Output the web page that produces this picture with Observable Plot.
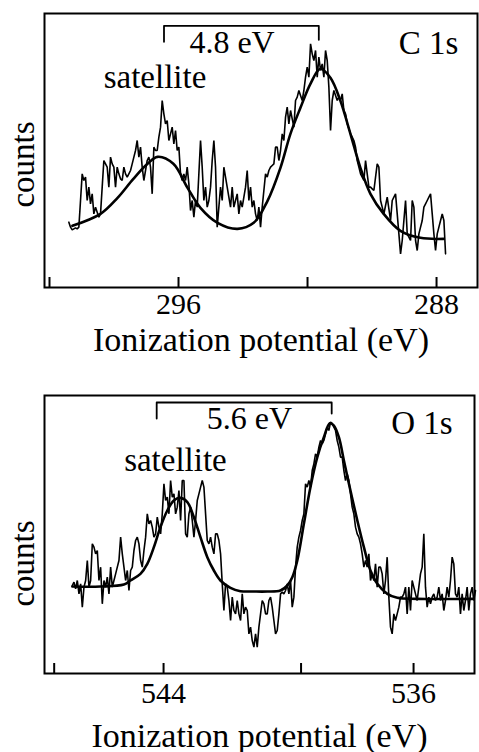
<!DOCTYPE html>
<html>
<head>
<meta charset="utf-8">
<script src="https://cdn.jsdelivr.net/npm/d3@7"></script>
<script src="https://cdn.jsdelivr.net/npm/@observablehq/plot@0.6"></script>
<style>
  html, body { margin: 0; padding: 0; background: #fff; }
  #chart svg { display: block; }
</style>
</head>
<body>
<div id="chart"></div>
<script>
// ---------- C 1s photoelectron spectrum ----------
// raw counts per channel (arbitrary units), channels run from c1sStart downward by c1sStep eV
const c1sStart = 299.40;
const c1sStep = 0.05168;
const c1sCounts = [
  196,181,173,176,179,176,181,261,341,321,
  331,261,301,251,281,221,241,226,211,221,
  301,381,371,361,301,391,371,361,301,361,
  341,326,321,361,341,331,341,351,371,391,
  411,441,391,421,361,321,351,381,391,361,
  281,421,411,411,451,481,561,521,491,501,
  441,461,481,431,471,411,421,341,321,341,
  321,361,311,231,261,211,261,241,341,441,
  361,261,301,241,261,301,381,441,361,181,
  241,301,261,361,331,301,271,241,301,241,
  261,281,221,261,241,271,301,351,261,301,
  241,261,221,201,241,181,241,291,341,331,
  351,361,366,371,421,421,381,411,461,441,
  511,541,491,531,506,481,561,571,591,576,
  561,591,631,661,631,731,701,681,711,631,
  691,651,671,631,711,681,601,471,561,591,
  576,561,571,561,581,531,521,491,476,461,
  451,441,421,381,361,341,331,321,381,341,
  301,301,296,291,331,371,361,261,241,221,
  246,271,236,201,261,271,281,221,161,101,
  141,201,261,161,151,141,261,241,141,111,
  161,181,201,241,251,261,271,281,221,161,
  111,161,181,201,221,201,101
];
// fitted envelope (main line + shake-up satellite)
const c1sFitEnergy = [299.29,298.42,297.89,297.40,296.96,296.65,296.16,295.72,295.32,294.79,
  294.17,293.67,293.24,292.84,292.53,292.22,291.91,291.60,291.29,290.98,
  290.67,290.36,290.05,289.64,289.12,288.50,287.78];
const c1sFitCounts = [185,221,269,326,371,392,371,299,239,194,
  176,194,260,359,461,539,611,656,629,560,
  461,359,281,221,170,149,146];
const c1sTicks = [300, 296, 292, 288];
const c1sTickLabels = [296, 288];
const c1sMainPeak = 291.65;
const c1sShift = 4.8;

// ---------- O 1s photoelectron spectrum ----------
const o1sStart = 546.92;
const o1sStep = 0.05331;
const o1sCounts = [
  264,274,254,279,239,269,199,259,279,339,
  259,279,389,379,359,369,279,319,209,279,
  259,289,239,319,259,279,299,319,339,409,
  359,319,279,309,249,309,319,369,399,409,
  389,339,319,369,409,479,449,459,439,409,
  419,469,439,419,479,569,519,529,479,579,
  529,539,479,499,549,459,579,579,419,409,
  479,499,459,409,459,519,539,559,579,559,
  479,399,389,409,379,359,419,419,399,359,
  269,189,269,259,219,159,229,189,179,219,
  179,159,239,179,199,189,119,139,99,79,
  119,79,139,179,219,209,179,179,219,229,
  199,159,119,129,179,239,244,239,249,269,
  239,279,199,229,319,379,409,429,459,479,
  569,559,579,559,609,629,659,649,679,699,
  689,699,719,739,729,754,749,739,729,699,
  679,649,649,609,579,599,579,539,499,479,
  439,419,409,389,359,319,339,319,359,279,
  299,279,329,259,319,319,299,239,279,349,
  229,139,119,179,159,179,199,229,229,239,
  259,179,259,189,279,259,239,219,259,299,
  319,419,259,199,229,209,229,239,219,229,
  259,219,239,189,219,259,229,279,349,329,
  239,229,259,179,239,189,219,259,189,239,
  259,219,249
];
const o1sFitEnergy = [546.92,546.02,545.27,545.06,544.74,544.52,544.31,544.10,543.88,543.67,
  543.46,543.24,543.03,542.82,542.60,542.39,542.18,541.86,541.54,541.11,
  540.68,540.26,540.04,539.88,539.72,539.51,539.30,539.08,538.87,538.68,
  538.55,538.39,538.23,538.02,537.80,537.59,537.38,537.16,536.84,536.52,
  535.88,534.07];
const o1sFitCounts = [261,261,267,279,299,329,379,439,489,519,
  527,514,469,409,349,309,279,257,247,246,
  246,249,264,289,339,449,559,649,709,751,
  744,709,639,549,459,379,309,269,239,227,
  224,224];
const o1sTicks = [547.5, 544, 539.6, 536];
const o1sTickLabels = [544, 536];
const o1sMainPeak = 538.62;
const o1sShift = 5.6;

const xTitle = "Ionization potential (eV)";
const yTitle = "counts";
const FONT = "'Liberation Serif', 'Times New Roman', Times, serif";

function spectrumPanel(cfg) {
  const raw = cfg.counts.map((c, i) => ({e: cfg.start - i * cfg.step, c}));
  const fit = cfg.fitEnergy.map((e, i) => ({e, c: cfg.fitCounts[i]}));
  const sat = cfg.mainPeak + cfg.shift;
  const bracket = [
    {e: sat, c: cfg.bracketLeftLow},
    {e: sat, c: cfg.bracketTop},
    {e: cfg.mainPeak, c: cfg.bracketTop},
    {e: cfg.mainPeak, c: cfg.bracketRightLow}
  ];
  const frameH = cfg.height - cfg.marginTop - cfg.marginBottom;
  return Plot.plot({
    width: 479,
    height: cfg.height,
    marginTop: cfg.marginTop,
    marginBottom: cfg.marginBottom,
    marginLeft: 44,
    marginRight: cfg.marginRight,
    style: {fontFamily: FONT, background: "#fff", color: "#000"},
    x: {domain: cfg.xDomain, axis: null},
    y: {domain: cfg.yDomain, axis: null},
    marks: [
      Plot.line(raw, {x: "e", y: "c", stroke: "#000", strokeWidth: 1.6, strokeLinejoin: "miter"}),
      Plot.line(fit, {x: "e", y: "c", stroke: "#000", strokeWidth: 2.6, curve: "catmull-rom"}),
      Plot.frame({stroke: "#000", strokeWidth: 2}),
      Plot.ruleX(cfg.ticks, {x: d => d, insetTop: frameH - 10, stroke: "#000", strokeWidth: 2}),
      Plot.text(cfg.tickLabels, {x: d => d, text: d => String(d), frameAnchor: "bottom",
        dy: cfg.tickDy, lineAnchor: "bottom", fontSize: 30, fill: "#000"}),
      Plot.text([xTitle], {frameAnchor: "bottom", dy: cfg.titleDy, lineAnchor: "bottom",
        fontSize: 34, fill: "#000"}),
      Plot.text([yTitle], {frameAnchor: "left", rotate: -90, dx: -11, dy: cfg.countsDy,
        textAnchor: "middle", lineAnchor: "bottom", fontSize: 33, fill: "#000"}),
      Plot.line(bracket, {x: "e", y: "c", stroke: "#000", strokeWidth: 1.8}),
      Plot.text([cfg.shift.toFixed(1) + " eV"], {x: cfg.shiftLabel[0], y: cfg.shiftLabel[1],
        lineAnchor: "bottom", fontSize: 32, fill: "#000"}),
      Plot.text(["satellite"], {x: cfg.satLabel[0], y: cfg.satLabel[1],
        lineAnchor: "bottom", fontSize: 33, fill: "#000"}),
      Plot.text([cfg.name], {x: cfg.nameLabel[0], y: cfg.nameLabel[1], textAnchor: "end",
        lineAnchor: "bottom", fontSize: 33, fill: "#000"})
    ]
  });
}

const chart = document.getElementById("chart");
chart.append(spectrumPanel({
  name: "C 1s",
  start: c1sStart, step: c1sStep, counts: c1sCounts,
  fitEnergy: c1sFitEnergy, fitCounts: c1sFitCounts,
  ticks: c1sTicks, tickLabels: c1sTickLabels,
  mainPeak: c1sMainPeak, shift: c1sShift,
  bracketTop: 785, bracketLeftLow: 737, bracketRightLow: 743,
  shiftLabel: [294.34, 704], satLabel: [296.73, 599], nameLabel: [287.32, 701],
  xDomain: [300.155, 286.73], yDomain: [0, 822],
  height: 360, marginTop: 13, marginBottom: 73, marginRight: 2,
  tickDy: 26, titleDy: 63, countsDy: 14
}));
chart.append(spectrumPanel({
  name: "O 1s",
  start: o1sStart, step: o1sStep, counts: o1sCounts,
  fitEnergy: o1sFitEnergy, fitCounts: o1sFitCounts,
  ticks: o1sTicks, tickLabels: o1sTickLabels,
  mainPeak: o1sMainPeak, shift: o1sShift,
  bracketTop: 813, bracketLeftLow: 765, bracketRightLow: 780,
  shiftLabel: [541.25, 735], satLabel: [543.62, 609], nameLabel: [534.75, 720],
  xDomain: [547.81, 534.05], yDomain: [0, 834],
  height: 392, marginTop: 35, marginBottom: 79, marginRight: 5,
  tickDy: 29, titleDy: 73, countsDy: 29
}));
</script>
</body>
</html>
